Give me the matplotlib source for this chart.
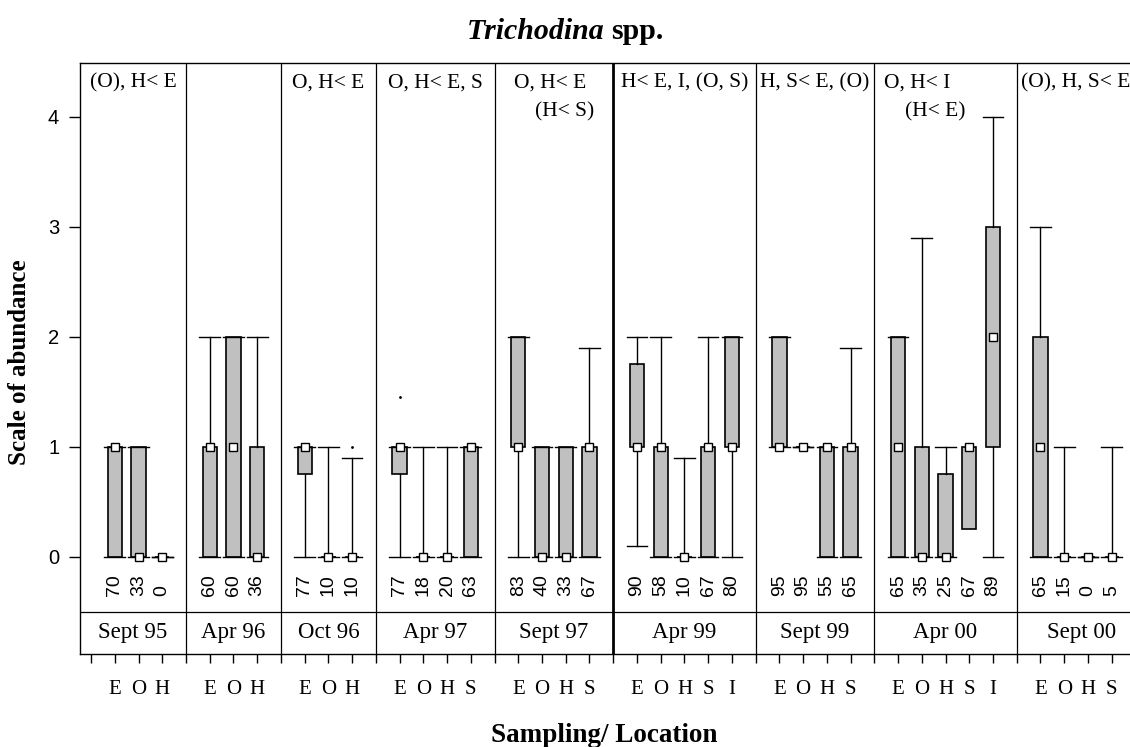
import matplotlib
matplotlib.use("Agg")
import matplotlib.pyplot as plt

# sampling occasions and the sites sampled on each
groups = ['Sept 95', 'Apr 96', 'Oct 96', 'Apr 97', 'Sept 97',
          'Apr 99', 'Sept 99', 'Apr 00', 'Sept 00']
sites = [['E', 'O', 'H'], ['E', 'O', 'H'], ['E', 'O', 'H'],
         ['E', 'O', 'H', 'S'], ['E', 'O', 'H', 'S'],
         ['E', 'O', 'H', 'S', 'I'], ['E', 'O', 'H', 'S'],
         ['E', 'O', 'H', 'S', 'I'], ['E', 'O', 'H', 'S']]

# abundance scale summaries, one entry per site in the order above
whis_lo = [0, 0, 0,  0, 0, 0,  0, 0, 0,  0, 0, 0, 0,  0, 0, 0, 0,
           0.1, 0, 0, 0, 0,  1, 1, 0, 0,  0, 0, 0, 0.25, 0,  0, 0, 0, 0]
q1 = [0, 0, 0,  0, 0, 0,  0.75, 0, 0,  0.75, 0, 0, 0,  1, 0, 0, 0,
      1, 0, 0, 0, 1,  1, 1, 0, 0,  0, 0, 0, 0.25, 1,  0, 0, 0, 0]
median = [1, 0, 0,  1, 1, 0,  1, 0, 0,  1, 0, 0, 1,  1, 0, 0, 1,
          1, 1, 0, 1, 1,  1, 1, 1, 1,  1, 0, 0, 1, 2,  1, 0, 0, 0]
q3 = [1, 1, 0,  1, 2, 1,  1, 0, 0,  1, 0, 0, 1,  2, 1, 1, 1,
      1.75, 1, 0, 1, 2,  2, 1, 1, 1,  2, 1, 0.75, 1, 3,  2, 0, 0, 0]
whis_hi = [1, 1, 0,  2, 2, 2,  1, 1, 0.9,  1, 1, 1, 1,  2, 1, 1, 1.9,
           2, 2, 0.9, 2, 2,  2, 1, 1, 1.9,  2, 2.9, 1, 1, 4,  3, 1, 0, 1]
outliers = [[], [], [],  [], [], [],  [], [], [1],  [1.45], [], [], [],
            [], [], [], [],  [], [], [], [], [],  [], [], [], [],
            [], [], [], [], [],  [], [], [], []]
# percentage of fish infected
prevalence = [70, 33, 0,  60, 60, 36,  77, 10, 10,  77, 18, 20, 63,
              83, 40, 33, 67,  90, 58, 10, 67, 80,  95, 95, 55, 65,
              65, 35, 25, 67, 89,  65, 15, 0, 5]

# significance notes written at the top of each occasion
notes = ['(O), H< E', '', 'O, H< E', 'O, H< E, S', 'O, H< E',
         'H< E, I, (O, S)', 'H, S< E, (O)', 'O, H< I', '(O), H, S< E']
notes2 = ['', '', '', '', '(H< S)', '', '', '(H< E)', '']

serif = 'Liberation Serif'
sans = 'Liberation Sans'

# x layout: one slot per site plus a divider slot after each occasion
positions, tick_labels, dividers = [], {}, []
x = 1
for g, s in zip(groups, sites):
    for letter in s:
        x += 1
        positions.append(x)
        tick_labels[x] = letter
    x += 1
    dividers.append(x)
x_left, x_right = 0.535, 45.5
spans = [x_left] + dividers[:-1] + [x_right]

fig = plt.figure(figsize=(11.3, 7.47), dpi=100)
ax = fig.add_axes([0.0708, 0.1245, 0.9445, 0.7912])

stats = []
for i in range(len(positions)):
    stats.append(dict(med=median[i], q1=q1[i], q3=q3[i],
                      whislo=whis_lo[i], whishi=whis_hi[i],
                      fliers=outliers[i]))
# the Apr 00 S box is drawn without whisker caps
no_caps = [29]
caps = [0.0 if i in no_caps else 0.87 for i in range(len(positions))]

ax.bxp(stats, positions=positions, widths=0.6, capwidths=caps,
       patch_artist=True, manage_ticks=False,
       boxprops=dict(facecolor='#c0c0c0', edgecolor='black', linewidth=1.2),
       whiskerprops=dict(color='black', linewidth=1.0),
       capprops=dict(color='black', linewidth=1.0),
       medianprops=dict(linestyle='none'),
       flierprops=dict(marker='.', markersize=2, markerfacecolor='black',
                       markeredgecolor='black'))
ax.plot(positions, median, 's', ms=6, mfc='white', mec='black', mew=1.0,
        linestyle='none', zorder=5)

for p, n in zip(positions, prevalence):
    ax.text(p, -0.355, str(n), rotation=90, ha='center', va='bottom',
            fontsize=14, family=sans)

# dividers between occasions, heavier one where the second survey starts
for d in dividers[:-1]:
    lw = 2.0 if d == 23 else 0.9
    ax.axvline(d, color='black', linewidth=lw, zorder=1)
ax.axhline(-0.5, color='black', linewidth=0.9)

note_dx = [0, 0, 0, 0, -0.15, 0, 0, -1.2, -0.25]
note2_dx = [0, 0, 0, 0, 0.45, 0, 0, -0.43, 0]
for i, g in enumerate(groups):
    mid = (spans[i] + spans[i + 1]) / 2
    ax.text(mid, -0.69, g, ha='center', va='center', fontsize=16.5,
            family=serif)
    if notes[i]:
        ax.text(mid + note_dx[i], 4.31, notes[i], ha='center', va='center',
                fontsize=15.5, family=serif)
    if notes2[i]:
        ax.text(mid + note2_dx[i], 4.05, notes2[i], ha='center',
                va='center', fontsize=15.5, family=serif)

ax.set_xlim(x_left, x_right)
ax.set_ylim(-0.882, 4.49)
ticks = list(range(1, 46))
ax.set_xticks(ticks)
ax.set_xticklabels([tick_labels.get(t, '') for t in ticks],
                   fontsize=15, family=serif)
ax.set_yticks([0, 1, 2, 3, 4])
ax.set_yticklabels(['0', '1', '2', '3', '4'], fontsize=14.5, family=sans)
ax.tick_params(axis='x', direction='out', length=6.5, width=1.0, pad=12)
ax.tick_params(axis='y', direction='out', length=8, width=1.0, pad=7)
ax.spines['right'].set_visible(False)
for side in ['left', 'bottom', 'top']:
    ax.spines[side].set_linewidth(1.0)

t1 = fig.text(467 / 1130, 1 - 39 / 747, 'Trichodina ', fontsize=21.5,
              family=serif, style='italic', weight='bold', va='baseline')
ax.annotate('spp.', xy=(1, 0), xycoords=t1, va='bottom', ha='left',
            fontsize=21.5, family=serif, weight='bold')
fig.text(20 / 1130, 1 - 362 / 747, 'Scale of abundance', rotation=90,
         ha='center', va='center', fontsize=18, family=serif, weight='bold')
fig.text(604 / 1130, 1 - 742 / 747, 'Sampling/ Location', ha='center',
         va='baseline', fontsize=19.5, family=serif, weight='bold')

fig.savefig('out.png', dpi=100)
